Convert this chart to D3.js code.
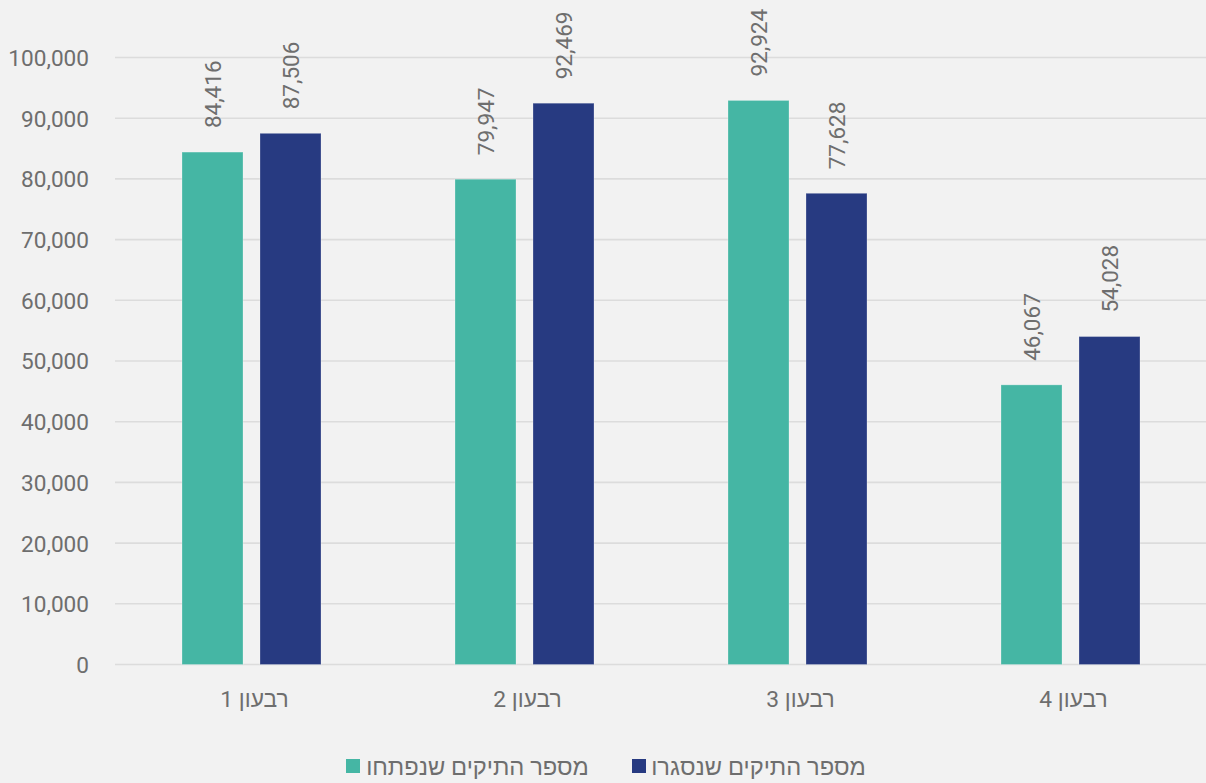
<!DOCTYPE html>
<html><head><meta charset="utf-8">
<script src="https://cdn.jsdelivr.net/npm/d3@7"></script>
<style>
html,body{margin:0;padding:0;background:#F2F2F2;}
svg{display:block;font-family:Roboto, "Noto Sans", sans-serif;}
</style></head>
<body>
<svg id="chart" width="1206" height="783"></svg>
<script>
const quarters = ["רבעון 1","רבעון 2","רבעון 3","רבעון 4"];
const seriesNames = ["מספר התיקים שנפתחו","מספר התיקים שנסגרו"];
const opened = [84416, 79947, 92924, 46067];
const closed = [87506, 92469, 77628, 54028];
const yTicks = [0,10000,20000,30000,40000,50000,60000,70000,80000,90000,100000];
const colors = ["#45B6A4","#273A81"];

const svg = d3.select("#chart");
const textColor = "#6E6E6E";
const left = 115, right = 1207;
const y = d3.scaleLinear().domain([0,100000]).range([664.5,57.5]);
const x0 = d3.scaleBand().domain(quarters).range([left,right]).paddingInner(134/273).paddingOuter(67/273);
const x1 = d3.scaleBand().domain(seriesNames).range([0,x0.bandwidth()]).paddingInner(0.218);
const fmt = d3.format(",");

// gridlines
svg.append("g").selectAll("line").data(yTicks).join("line")
  .attr("x1",left).attr("x2",1206)
  .attr("y1",d=>y(d)).attr("y2",d=>y(d))
  .attr("stroke","#DCDCDC").attr("stroke-width",1.6);

// y axis labels
const yAxis = d3.axisLeft(y).tickValues(yTicks).tickFormat(fmt).tickSize(0).tickPadding(0);
const ga = svg.append("g").attr("transform","translate(89,0)").call(yAxis);
ga.select(".domain").remove();
ga.selectAll("text").attr("fill",textColor).attr("font-size",22.6).attr("font-family","Roboto").attr("dy","0.35em");

const data = quarters.map((q,i)=>({q, vals:[{s:seriesNames[0],v:opened[i],c:colors[0]},{s:seriesNames[1],v:closed[i],c:colors[1]}]}));

const groups = svg.append("g").selectAll("g").data(data).join("g")
  .attr("transform",d=>`translate(${x0(d.q)},0)`);

groups.selectAll("rect").data(d=>d.vals).join("rect")
  .attr("x",d=>x1(d.s)).attr("width",x1.bandwidth())
  .attr("y",d=>y(d.v)).attr("height",d=>y(0)-y(d.v))
  .attr("fill",d=>d.c)
  .attr("stroke","rgba(255,255,255,0.25)").attr("stroke-width",1);

groups.selectAll("text.lbl").data(d=>d.vals).join("text").attr("class","lbl")
  .attr("transform",d=>`translate(${x1(d.s)+x1.bandwidth()/2+1},${y(d.v)-24}) rotate(-90)`)
  .attr("text-anchor","start").attr("dy","0.35em")
  .attr("fill",textColor).attr("font-size",22.5)
  .text(d=>fmt(d.v));

// x axis labels
svg.append("g").selectAll("text").data(quarters).join("text")
  .attr("x",d=>x0(d)+x0.bandwidth()/2+3).attr("y",699).attr("dy","0.35em")
  .attr("text-anchor","middle").attr("direction","rtl").attr("unicode-bidi","embed")
  .attr("fill",textColor).attr("font-size",22.8).text(d=>d);

// legend
const legendItems = [{name:seriesNames[0],c:colors[0],sx:346,tx:477.5},{name:seriesNames[1],c:colors[1],sx:632,tx:758.5}];
const lg = svg.append("g");
lg.selectAll("rect").data(legendItems).join("rect")
  .attr("x",d=>d.sx).attr("y",759).attr("width",14).attr("height",14).attr("fill",d=>d.c);
lg.selectAll("text").data(legendItems).join("text")
  .attr("x",d=>d.tx).attr("y",767).attr("dy","0.35em")
  .attr("text-anchor","middle").attr("direction","rtl").attr("unicode-bidi","embed")
  .attr("fill",textColor).attr("font-size",23.7).text(d=>d.name);
</script>
</body></html>
